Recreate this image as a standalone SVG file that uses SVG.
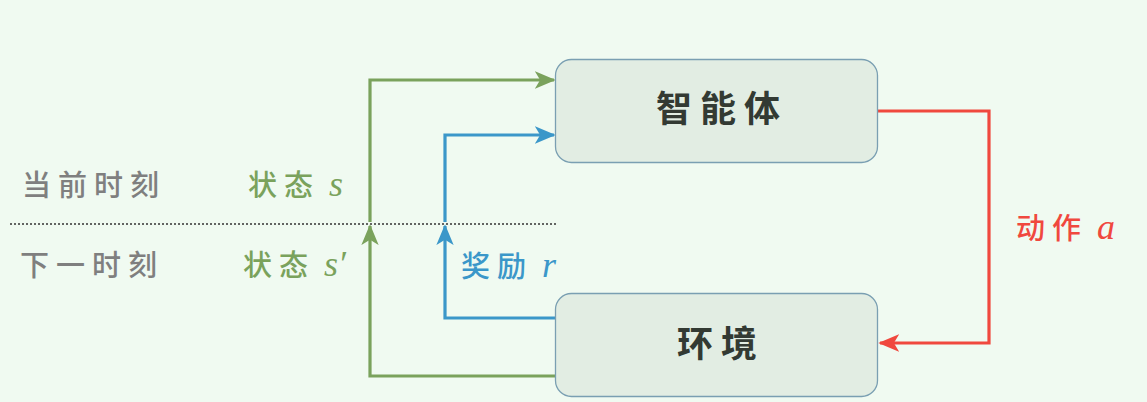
<svg xmlns="http://www.w3.org/2000/svg" width="1147" height="402" viewBox="0 0 1147 402">
<style>
.box{fill:#e2ede3;stroke:#7a9fb2;stroke-width:1.3}
.bt{font-family:"Noto Sans CJK SC","Noto Sans",sans-serif;font-size:36px;font-weight:bold;fill:#333a33;text-anchor:middle;letter-spacing:8px}
.lt{font-family:"Noto Sans CJK SC","Noto Sans",sans-serif;font-size:29px;font-weight:500;letter-spacing:7px}
.m{font-family:"Liberation Serif",serif;font-style:italic;font-size:36px;font-weight:normal;letter-spacing:0}
.g{fill:#7aa25c}.b{fill:#3b97c9}.r{fill:#f0483e}.k{fill:#7f7f7f}
.ln{fill:none;stroke-width:3.2}
</style>
<defs>
<marker id="ag" viewBox="0 0 12 10" refX="11" refY="5" markerWidth="6.5" markerHeight="5.5" markerUnits="strokeWidth" orient="auto"><path d="M0,0 L12,5 L0,10 L3,5 Z" fill="#7aa25c"/></marker>
<marker id="ab" viewBox="0 0 12 10" refX="11" refY="5" markerWidth="6.5" markerHeight="5.5" markerUnits="strokeWidth" orient="auto"><path d="M0,0 L12,5 L0,10 L3,5 Z" fill="#3b97c9"/></marker>
<marker id="ar" viewBox="0 0 12 10" refX="11" refY="5" markerWidth="6.5" markerHeight="5.5" markerUnits="strokeWidth" orient="auto"><path d="M0,0 L12,5 L0,10 L3,5 Z" fill="#f0483e"/></marker>
</defs>
<rect width="1147" height="402" fill="#f0faf1"/>
<line x1="10" y1="224" x2="557" y2="224" stroke="#333" stroke-width="1.5" stroke-dasharray="2,2"/>
<g id="connectors">
<path class="ln" stroke="#7aa25c" d="M555,376 H370 V226" marker-end="url(#ag)"/>
<path class="ln" stroke="#7aa25c" d="M370,222 V80 H554" marker-end="url(#ag)"/>
<path class="ln" stroke="#3b97c9" d="M555,318 H445 V226" marker-end="url(#ab)"/>
<path class="ln" stroke="#3b97c9" d="M445,222 V135 H554" marker-end="url(#ab)"/>
<path class="ln" stroke="#f0483e" d="M878,111 H989 V343 H880" marker-end="url(#ar)"/>
</g>
<g id="agent">
<rect class="box" x="555.5" y="59.5" width="322" height="103" rx="16"/>
<text class="bt" x="722" y="122">智能体</text>
</g>
<g id="env">
<rect class="box" x="555.5" y="293.5" width="322" height="103" rx="16"/>
<text class="bt" x="721" y="357">环境</text>
</g>
<g id="labels">
<text class="lt k" x="22" y="196">当前时刻</text>
<text class="lt k" x="20" y="276">下一时刻</text>
<text class="lt g" x="248" y="196">状态<tspan class="m" dx="9">s</tspan></text>
<text class="lt g" x="243" y="276">状态<tspan class="m" dx="9">s′</tspan></text>
<text class="lt b" x="461" y="277">奖励<tspan class="m" dx="9">r</tspan></text>
<text class="lt r" x="1016" y="239">动作<tspan class="m" dx="9">a</tspan></text>
</g>
</svg>
